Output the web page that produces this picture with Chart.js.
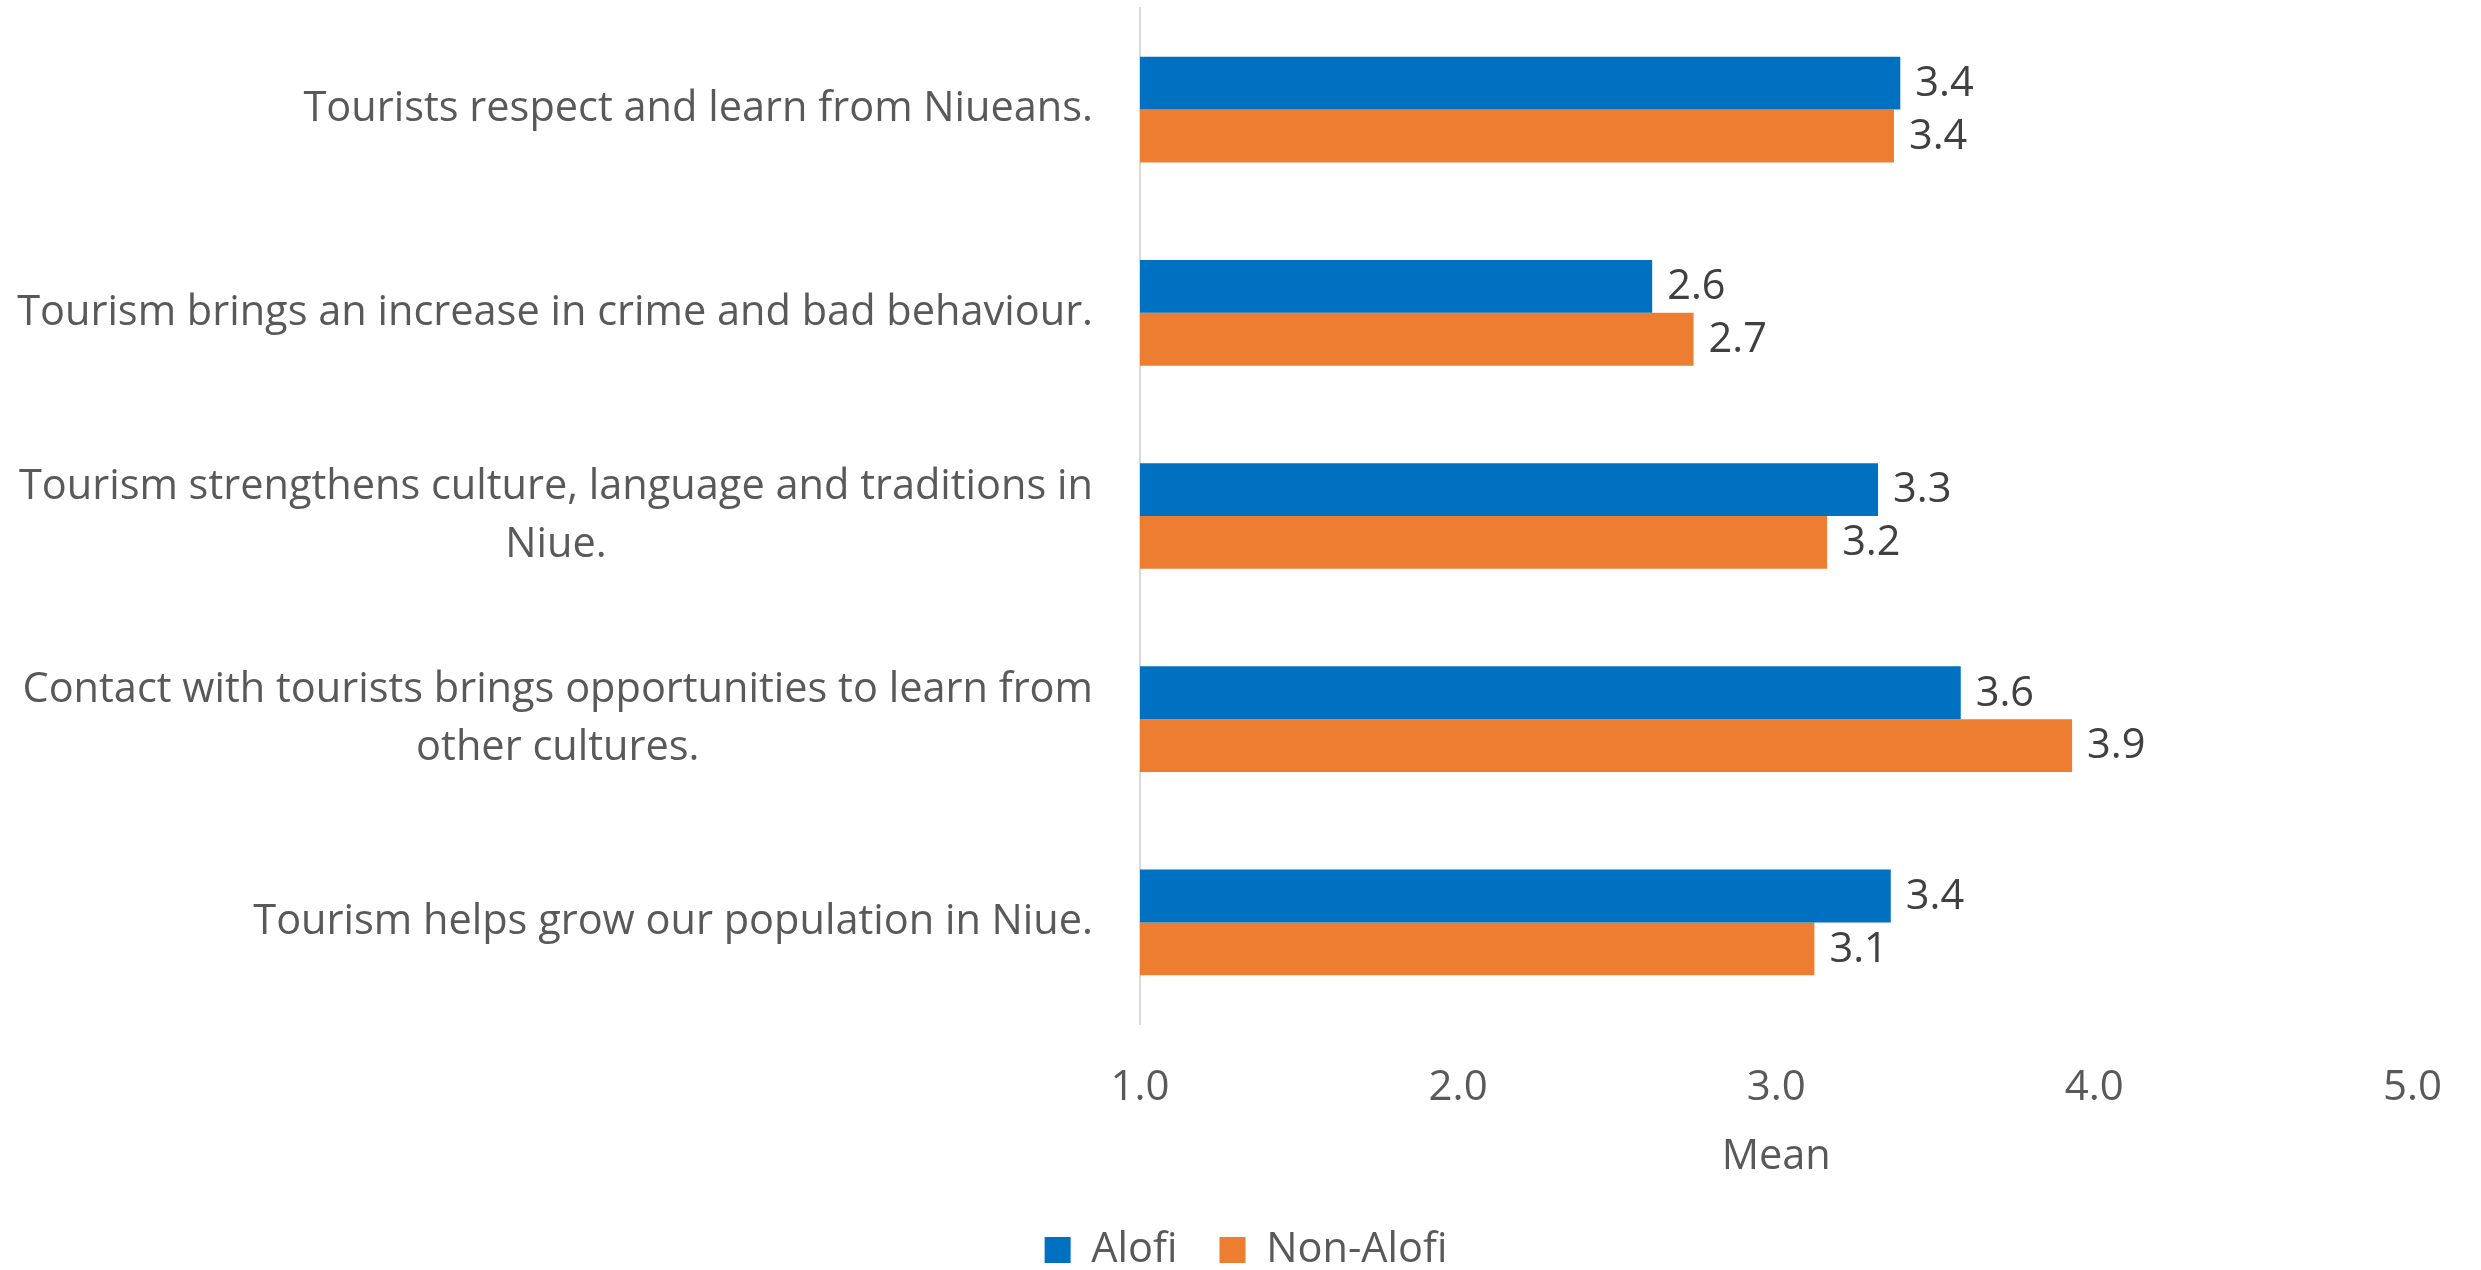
<!DOCTYPE html>
<html><head><meta charset="utf-8">
<script src="https://cdn.jsdelivr.net/npm/chart.js@4.4.1/dist/chart.umd.min.js"></script>
<style>html,body{margin:0;padding:0;background:#fff;overflow:hidden;} #wrap{width:2481px;height:1270px;position:relative;}</style>
</head><body><div id="wrap"><canvas id="c"></canvas></div>
<script>
const categories = [
  ["Tourists respect and learn from Niueans."],
  ["Tourism brings an increase in crime and bad behaviour."],
  ["Tourism strengthens culture, language and traditions in", "Niue."],
  ["Contact with tourists brings opportunities to learn from", "other cultures."],
  ["Tourism helps grow our population in Niue."]
];
const seriesNames = ["Alofi", "Non-Alofi"];
const alofi = [3.39, 2.61, 3.32, 3.58, 3.36];
const nonAlofi = [3.37, 2.74, 3.16, 3.93, 3.12];
const xTicks = [1.0, 2.0, 3.0, 4.0, 5.0];
const xTitle = "Mean";

const FONT = '"Open Sans", "Liberation Sans", sans-serif';
const FS = 41.5;
const TICK_FS = 42;
const PLOT_TOP = 8, PLOT_BOTTOM = 1024, PLOT_LEFT = 1140;
const PAD_LEFT = 68, PAD_RIGHT = 57;
const LEGEND_CENTER = 1250, LEGEND_PAD = 42;

const legendFitPlugin = {
  id: 'legendFit',
  beforeLayout(chart) {
    const lg = chart.legend;
    if (lg && !lg._patched) {
      const orig = lg.fit.bind(lg);
      lg.fit = function () {
        orig();
        this.height = chart.height - (LEGEND_CENTER - FS / 2 - LEGEND_PAD);
      };
      lg._patched = true;
    }
  }
};

const catLabelPlugin = {
  id: 'catLabels',
  afterDraw(chart) {
    const ctx = chart.ctx, ys = chart.scales.y;
    ctx.save();
    ctx.font = FS + 'px ' + FONT;
    ctx.fillStyle = '#595959';
    ctx.textBaseline = 'middle';
    ctx.textAlign = 'center';
    const lh = 58.5;
    categories.forEach((lines, i) => {
      const yc = ys.getPixelForTick(i);
      const w = Math.max(...lines.map(l => ctx.measureText(l).width));
      const xc = chart.chartArea.left - 47 - w / 2;
      lines.forEach((l, j) => ctx.fillText(l, xc, yc + (j - (lines.length - 1) / 2) * lh));
    });
    ctx.restore();
  }
};
const valueLabelPlugin = {
  id: 'valueLabels',
  afterDatasetsDraw(chart) {
    const ctx = chart.ctx;
    ctx.save();
    ctx.font = FS + 'px ' + FONT;
    ctx.fillStyle = '#404040';
    ctx.textBaseline = 'middle';
    ctx.textAlign = 'left';
    chart.data.datasets.forEach((ds, di) => {
      const meta = chart.getDatasetMeta(di);
      meta.data.forEach((el, i) => {
        ctx.fillText(ds.data[i].toFixed(1), el.x + 15, el.y + 1);
      });
    });
    ctx.restore();
  }
};

function build() {
  new Chart(document.getElementById('c'), {
    type: 'bar',
    data: {
      labels: categories,
      datasets: [
        { label: seriesNames[0], data: alofi, backgroundColor: '#0070C0', base: 1 },
        { label: seriesNames[1], data: nonAlofi, backgroundColor: '#ED7D31', base: 1 }
      ]
    },
    options: {
      indexAxis: 'y',
      responsive: true,
      maintainAspectRatio: false,
      animation: false,
      categoryPercentage: 0.52,
      barPercentage: 1.0,
      layout: { padding: { top: PLOT_TOP, right: PAD_RIGHT, bottom: 0, left: PAD_LEFT } },
      scales: {
        x: {
          min: 1, max: 5,
          afterBuildTicks(s) { s.ticks = xTicks.map(v => ({ value: v })); },
          afterFit(s) {
            const legendTop = s.chart.height - s.chart.legend.height;
            s.height = legendTop - PLOT_BOTTOM;
          },
          grid: { display: false, drawTicks: false },
          border: { display: false },
          ticks: {
            padding: 39,
            color: '#595959',
            font: { family: FONT, size: TICK_FS },
            callback: v => Number(v).toFixed(1),
            maxRotation: 0
          },
          title: {
            display: true, text: xTitle, color: '#595959',
            font: { family: FONT, size: FS },
            padding: { top: 0, bottom: 5 }
          }
        },
        y: {
          afterFit(s) { s.width = PLOT_LEFT - PAD_LEFT; },
          grid: { display: false, drawTicks: false },
          border: { display: true, color: '#D9D9D9', width: 2 },
          ticks: { display: false }
        }
      },
      plugins: {
        legend: {
          position: 'bottom',
          labels: {
            color: '#595959',
            font: { family: FONT, size: FS },
            boxWidth: 26, boxHeight: 26,
            padding: LEGEND_PAD
          }
        },
        tooltip: { enabled: false }
      }
    },
    plugins: [legendFitPlugin, catLabelPlugin, valueLabelPlugin]
  });
}
if (document.fonts && document.fonts.load) {
  document.fonts.load(FS + 'px "Open Sans"').then(build, build);
} else build();
</script>
</body></html>
